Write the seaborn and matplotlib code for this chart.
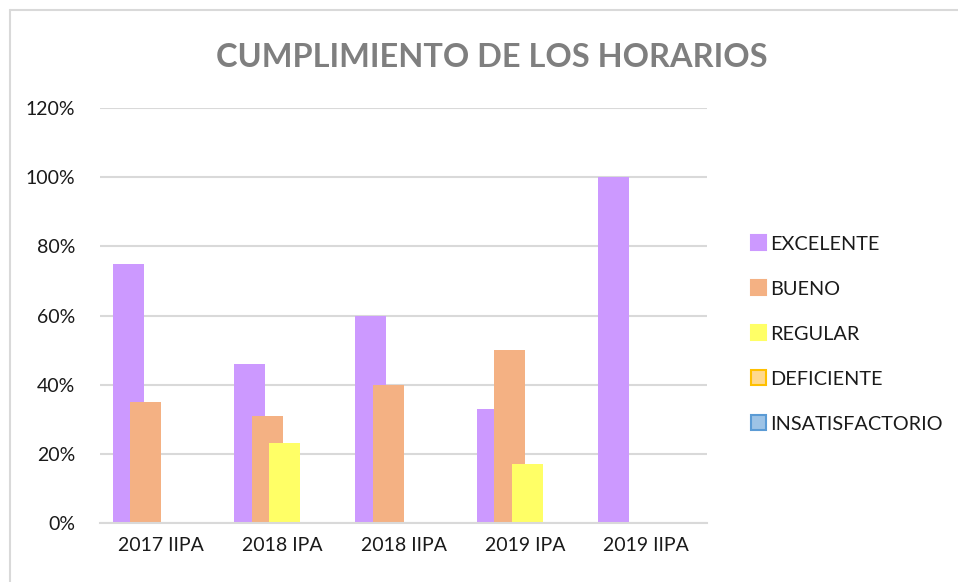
import pandas as pd
import matplotlib.pyplot as plt
import seaborn as sns
from matplotlib.patches import Patch
from matplotlib.lines import Line2D
from matplotlib.ticker import PercentFormatter

# Data
periods = ["2017 IIPA", "2018 IPA", "2018 IIPA", "2019 IPA", "2019 IIPA"]
levels = ["EXCELENTE", "BUENO", "REGULAR", "DEFICIENTE", "INSATISFACTORIO"]
excelente = [0.75, 0.46, 0.60, 0.33, 1.00]
bueno = [0.35, 0.31, 0.40, 0.50, 0.0]
regular = [0.0, 0.23, 0.0, 0.17, 0.0]
deficiente = [0.0, 0.0, 0.0, 0.0, 0.0]
insatisfactorio = [0.0, 0.0, 0.0, 0.0, 0.0]

fills = ["#CC99FF", "#F4B183", "#FFFF66", "#FFD98F", "#9DC3E6"]
edges = ["#CC99FF", "#F4B183", "#FFFF66", "#FFC000", "#5B9BD5"]

series = [excelente, bueno, regular, deficiente, insatisfactorio]
rows = []
for lvl, vals in zip(levels, series):
    for p, v in zip(periods, vals):
        rows.append({"periodo": p, "nivel": lvl, "valor": v})
df = pd.DataFrame(rows)

sns.set_theme(style="white")
plt.rcParams['font.family'] = ['Lato', 'DejaVu Sans']

fig = plt.figure(figsize=(9.58, 5.82), dpi=100)
ax = fig.add_axes([0.1044, 0.1014, 0.6336, 0.713])

sns.barplot(data=df, x="periodo", y="valor", hue="nivel", order=periods,
            hue_order=levels, palette=fills, width=0.72, dodge=True,
            saturation=1, errorbar=None, legend=False, ax=ax, linewidth=0)

# Excel-style overlapping bars: widen each bar around its centre
bar_w = 0.255
for cont in ax.containers:
    for patch in cont:
        cx = patch.get_x() + patch.get_width() / 2 + 0.02
        patch.set_width(bar_w)
        patch.set_x(cx - bar_w / 2)

ax.set_ylim(0, 1.2)
ax.set_xlim(-0.5, len(periods) - 0.5)
ax.set_yticks([0, 0.2, 0.4, 0.6, 0.8, 1.0, 1.2])
ax.yaxis.set_major_formatter(PercentFormatter(1.0, decimals=0))
ax.yaxis.grid(True, color="#D9D9D9", linewidth=1.5)
ax.set_axisbelow(True)
for s in ["left", "right", "top"]:
    ax.spines[s].set_visible(False)
ax.spines["bottom"].set_color("#D9D9D9")
ax.spines["bottom"].set_linewidth(1.5)
ax.tick_params(axis="both", length=0, labelsize=14, colors="#1a1a1a")
ax.tick_params(axis="y", pad=18)
ax.tick_params(axis="x", pad=10)
ax.set_xlabel("")
ax.set_ylabel("")

fig.text(0.513, 0.902, "CUMPLIMIENTO DE LOS HORARIOS", ha="center", va="center",
         fontsize=23.4, fontweight="bold", color="#7F7F7F")

handles = [Patch(facecolor=f, edgecolor=e, linewidth=1.5) for f, e in zip(fills, edges)]
fig.legend(handles, levels, loc="center left", bbox_to_anchor=(0.765, 0.426),
           frameon=False, fontsize=14.3, labelspacing=1.4, handlelength=0.75,
           handleheight=0.75, handletextpad=0.25, labelcolor="#1a1a1a")

# chart frame (only left and top edges fall inside the picture)
fig.add_artist(Line2D([10 / 958, 10 / 958], [0, 1 - 10 / 582], color="#D9D9D9",
                      linewidth=1.5, transform=fig.transFigure))
fig.add_artist(Line2D([10 / 958, 1], [1 - 10 / 582, 1 - 10 / 582], color="#D9D9D9",
                      linewidth=1.5, transform=fig.transFigure))

fig.savefig("out.png", dpi=100)
